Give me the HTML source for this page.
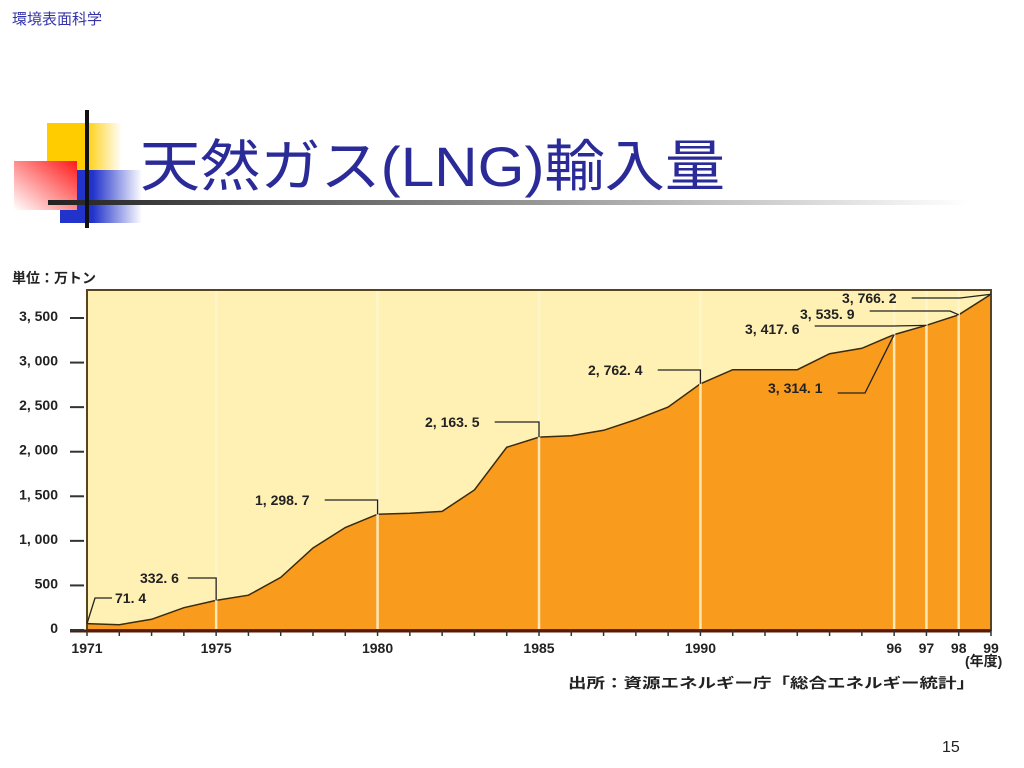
<!DOCTYPE html>
<html><head><meta charset="utf-8">
<style>
body{margin:0;background:#fff;width:1024px;height:768px;overflow:hidden;position:relative;font-family:"Liberation Sans","Noto Sans CJK JP",sans-serif}
</style></head>
<body>
<div style="position:absolute;left:12px;top:8px;font-size:15px;color:#3333aa;">環境表面科学</div>
<svg width="1024" height="768" style="position:absolute;left:0;top:0">
<defs>
<linearGradient id="gy" x1="0" x2="1"><stop offset="0.5" stop-color="#ffcc00"/><stop offset="1" stop-color="#fff"/></linearGradient>
<linearGradient id="gb" x1="0" x2="1"><stop offset="0.4" stop-color="#2233cc"/><stop offset="1" stop-color="#fff"/></linearGradient>
<linearGradient id="gr" x1="1" y1="0" x2="0" y2="1"><stop offset="0" stop-color="#ff1a1a"/><stop offset="1" stop-color="#fff"/></linearGradient>
<linearGradient id="gl" x1="0" x2="1"><stop offset="0" stop-color="#222"/><stop offset="1" stop-color="#fff"/></linearGradient>
</defs>
<g>
<rect x="47" y="123" width="75" height="48" fill="url(#gy)"/>
<rect x="60" y="170" width="82" height="53" fill="url(#gb)"/>
<rect x="14" y="161" width="63" height="49" fill="url(#gr)"/>
<rect x="48" y="200" width="920" height="5" fill="url(#gl)"/>
<rect x="85" y="110" width="4" height="118" fill="#111"/>
</g>
<text x="140" y="186" font-size="56" fill="#2a2a99" textLength="585" lengthAdjust="spacingAndGlyphs" font-family="Liberation Sans, Noto Sans CJK JP, sans-serif">天然ガス(LNG)輸入量</text>
<text x="942" y="752" font-size="16" fill="#222">15</text>
<g id="chart" font-family="Liberation Sans, Noto Sans CJK JP, sans-serif" font-weight="bold" font-size="14" fill="#222"></g>
</svg>
<script>
const years=[1971,1972,1973,1974,1975,1976,1977,1978,1979,1980,1981,1982,1983,1984,1985,1986,1987,1988,1989,1990,1991,1992,1993,1994,1995,1996,1997,1998,1999];
const values=[71.4,60,120,250,332.6,390,590,920,1150,1298.7,1310,1330,1570,2050,2163.5,2180,2240,2360,2500,2762.4,2920,2920,2920,3100,3160,3314.1,3417.6,3535.9,3766.2];
const yTicks=[0,500,1000,1500,2000,2500,3000,3500];
const yTickLabels=["0","500","1, 000","1, 500","2, 000","2, 500","3, 000","3, 500"];
const xLabelYears=[1971,1975,1980,1985,1990,1996,1997,1998,1999];
const xLabels=["1971","1975","1980","1985","1990","96","97","98","99"];
const gridYears=[1975,1980,1985,1990,1996,1997,1998];
const annYears=[1971,1975,1980,1985,1990,1996,1997,1998,1999];
const annLabels=["71. 4","332. 6","1, 298. 7","2, 163. 5","2, 762. 4","3, 314. 1","3, 417. 6","3, 535. 9","3, 766. 2"];
const annPos=[[115,598],[140,578],[255,500],[425,422],[588,370],[768,388],[745,329],[800,314],[842,298]];
const annElbow=[[95,600],null,null,null,null,[865,393],[893,326],[950,311],[960,298]];

const X0=87,X1=991,Y0=630,PX=(X1-X0)/(1999-1971),PY=(630-318)/3500;
const xs=y=>X0+(y-1971)*PX, ys=v=>Y0-v*PY;
const g=document.getElementById('chart');
const NS='http://www.w3.org/2000/svg';
function mk(t,a,p){const e=document.createElementNS(NS,t);for(const k in a)e.setAttribute(k,a[k]);(p||g).appendChild(e);return e;}
let e=mk('rect',{x:X0,y:290,width:X1-X0,height:Y0-290,fill:'#fff0b4'});


let pts=years.map((y,i)=>xs(y).toFixed(1)+','+ys(values[i]).toFixed(1));
e=mk('path',{d:'M'+xs(years[0])+','+Y0+' L'+pts.join(' L')+' L'+xs(years[years.length-1])+','+Y0+' Z',fill:'#f99b1c'});


e=mk('path',{d:'M'+pts.join(' L'),fill:'none',stroke:'#3a2a10','stroke-width':1.5});


gridYears.forEach(y=>{const l=mk('line',{x1:xs(y),x2:xs(y),y1:291,y2:Y0,stroke:'#fff6d0','stroke-width':2.5,opacity:0.85});

});
e=mk('rect',{x:X0,y:290,width:X1-X0,height:Y0-290,fill:'none',stroke:'#5a4420','stroke-width':2});


e=mk('line',{x1:70,x2:X1,y1:Y0+1,y2:Y0+1,stroke:'#5a1a00','stroke-width':3});


years.forEach(y=>{const t=mk('line',{x1:xs(y),x2:xs(y),y1:Y0,y2:Y0+6,stroke:'#333','stroke-width':1.5});

});
yTicks.forEach((v,i)=>{const t=mk('line',{x1:70,x2:84,y1:ys(v),y2:ys(v),stroke:'#333','stroke-width':2});


const l=mk('text',{x:58,y:ys(v)+3,'text-anchor':'end'});l.textContent=yTickLabels[i];

});
xLabelYears.forEach((y,i)=>{const l=mk('text',{x:xs(y),y:Y0+23,'text-anchor':'middle'});l.textContent=xLabels[i];

});
annYears.forEach((y,i)=>{const px=xs(y),py=ys(values[years.indexOf(y)]);const [lx,ly]=annPos[i];
const t=mk('text',{x:lx,y:ly+5});t.textContent=annLabels[i];


const w=annLabels[i].length*7.3;
let p;
if(i==0){p=(lx-3)+','+ly+' 95,'+ly+' '+px+','+py;}
else if(annElbow[i]){const el=annElbow[i];p=(lx+w+4)+','+el[1]+' '+el[0]+','+el[1]+' '+px+','+py;}
else{p=(lx+w+4)+','+ly+' '+px+','+ly+' '+px+','+py;}
const pl=mk('polyline',{points:p,fill:'none',stroke:'#222','stroke-width':1.3});

});
e=mk('text',{x:12,y:283});e.textContent='単位：万トン';


e=mk('text',{x:965,y:666});e.textContent='(年度)';


e=mk('text',{x:568,y:688,textLength:407,lengthAdjust:'spacingAndGlyphs'});e.textContent='出所：資源エネルギー庁「総合エネルギー統計」';


</script>
</body></html>
